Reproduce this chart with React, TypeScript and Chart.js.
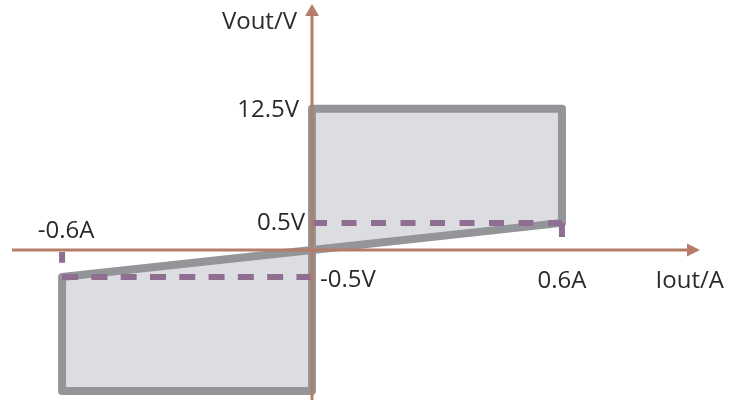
import React, { useEffect, useRef } from 'react';
import { Chart, registerables, LinearScale } from 'chart.js';

// ---------- data ----------
const xTickValues = [-0.6, 0.6];
const xTickLabels = ['-0.6A', '0.6A'];
const yTickValues = [12.5, 0.5, -0.5];
const yTickLabels = ['12.5V', '0.5V', '-0.5V'];
const xTitle = 'Iout/A';
const yTitle = 'Vout/V';

// positive-quadrant region (Iout ≥ 0)
const upperX = [0, 0, 0.6, 0.6, 0];
const upperY = [0, 12.5, 12.5, 0.5, 0];
// negative-quadrant region (Iout ≤ 0)
const lowerX = [0, 0, -0.6, -0.6, 0];
const lowerY = [0, -12.5, -12.5, -0.5, 0];

// dashed guide lines
const upperGuideX = [0, 0.6];
const upperGuideY = [0.5, 0.5];
const lowerGuideX = [-0.6, 0];
const lowerGuideY = [-0.5, -0.5];
// short tick marks at ±0.6A
const upperMarkX = [0.6, 0.6];
const upperMarkY = [0.5, 0.24];
const lowerMarkX = [-0.6, -0.6];
const lowerMarkY = [-0.04, -0.24];

// ---------- styles ----------
const AXIS_COLOR = '#b57d69';
const SHAPE_STROKE = '#939598';
const SHAPE_FILL = '#dcdde0';
const GUIDE_COLOR = '#8f6e92';
const TEXT_COLOR = '#2b2b2b';
const FONT = '24px "Open Sans", sans-serif';

// schematic (piecewise-linear) vertical scale: small band near zero is expanded
const BREAK = 0.5;
const INNER = 54;
const OUTER = 9.5;
const tf = (v: number) => {
  const a = Math.abs(v);
  const s = Math.sign(v);
  return s * (a <= BREAK ? a * INNER : BREAK * INNER + (a - BREAK) * OUTER);
};
const tfInv = (t: number) => {
  const a = Math.abs(t);
  const s = Math.sign(t);
  return s * (a <= BREAK * INNER ? a / INNER : BREAK + (a - BREAK * INNER) / OUTER);
};

class PiecewiseScale extends LinearScale {
  static id = 'piecewise';
  getPixelForValue(value: number) {
    const lo = tf(this.min);
    const hi = tf(this.max);
    return this.getPixelForDecimal((tf(value) - lo) / (hi - lo));
  }
  getValueForPixel(pixel: number) {
    const lo = tf(this.min);
    const hi = tf(this.max);
    const d = this.getDecimalForPixel(pixel);
    return tfInv(lo + d * (hi - lo));
  }
}

Chart.register(...registerables, PiecewiseScale);

const pts = (xs: number[], ys: number[]) => xs.map((x, i) => ({ x, y: ys[i] }));

const decorPlugin = {
  id: 'decor',
  afterDatasetsDraw(chart: any) {
    const { ctx, chartArea, scales } = chart;
    const xs = scales.x;
    const ys = scales.y;
    const x0 = xs.getPixelForValue(0);
    const y0 = ys.getPixelForValue(0);
    ctx.save();
    ctx.strokeStyle = AXIS_COLOR;
    ctx.fillStyle = AXIS_COLOR;
    ctx.lineWidth = 3;
    // x axis
    const xStart = chartArea.left + 12;
    const xTip = chartArea.right - 29;
    ctx.beginPath();
    ctx.moveTo(xStart, y0);
    ctx.lineTo(xTip - 10, y0);
    ctx.stroke();
    ctx.beginPath();
    ctx.moveTo(xTip, y0);
    ctx.lineTo(xTip - 13, y0 - 6.5);
    ctx.lineTo(xTip - 13, y0 + 6.5);
    ctx.closePath();
    ctx.fill();
    // y axis
    const yTip = chartArea.top + 4;
    ctx.beginPath();
    ctx.moveTo(x0, chartArea.bottom);
    ctx.lineTo(x0, yTip + 10);
    ctx.stroke();
    ctx.beginPath();
    ctx.moveTo(x0, yTip);
    ctx.lineTo(x0 - 7, yTip + 12);
    ctx.lineTo(x0 + 7, yTip + 12);
    ctx.closePath();
    ctx.fill();

    // labels
    ctx.font = FONT;
    ctx.fillStyle = TEXT_COLOR;
    ctx.textBaseline = 'alphabetic';
    // y titles/ticks
    ctx.textAlign = 'right';
    ctx.fillText(yTitle, x0 - 15, chartArea.top + 29);
    yTickValues.forEach((v, i) => {
      const py = ys.getPixelForValue(v);
      if (v > 1) {
        ctx.textAlign = 'right';
        ctx.fillText(yTickLabels[i], x0 - 13, py + 8);
      } else if (v > 0) {
        ctx.textAlign = 'right';
        ctx.fillText(yTickLabels[i], x0 - 7, py + 7);
      } else {
        ctx.textAlign = 'left';
        ctx.fillText(yTickLabels[i], x0 + 8, py + 10);
      }
    });
    // x ticks
    ctx.textAlign = 'center';
    xTickValues.forEach((v, i) => {
      const px = xs.getPixelForValue(v);
      if (v < 0) ctx.fillText(xTickLabels[i], px + 4, y0 - 12);
      else ctx.fillText(xTickLabels[i], px, y0 + 38);
    });
    ctx.textAlign = 'right';
    ctx.fillText(xTitle, chartArea.right - 5, y0 + 38);
    ctx.restore();
  },
};

export default function App() {
  const ref = useRef<HTMLCanvasElement>(null);
  useEffect(() => {
    const shape = (xs: number[], ys: number[]) => ({
      data: pts(xs, ys),
      showLine: true,
      fill: 'shape',
      backgroundColor: SHAPE_FILL,
      borderColor: SHAPE_STROKE,
      borderWidth: 8,
      borderJoinStyle: 'round',
      pointRadius: 0,
      order: 3,
    });
    const guide = (xs: number[], ys: number[], dash: number[]) => ({
      data: pts(xs, ys),
      showLine: true,
      fill: false,
      borderColor: GUIDE_COLOR,
      borderWidth: 6,
      borderDash: dash,
      borderCapStyle: 'butt',
      pointRadius: 0,
      order: 1,
    });
    const chart = new Chart(ref.current!, {
      type: 'scatter',
      data: {
        datasets: [
          shape(upperX, upperY),
          shape(lowerX, lowerY),
          guide(upperGuideX, upperGuideY, [15, 14.5]),
          guide(lowerGuideX, lowerGuideY, [16, 13.3]),
          guide(upperMarkX, upperMarkY, []),
          guide(lowerMarkX, lowerMarkY, []),
        ] as any,
      },
      options: {
        animation: false,
        responsive: true,
        maintainAspectRatio: false,
        layout: { padding: 0 },
        plugins: { legend: { display: false }, tooltip: { enabled: false } },
        events: [],
        scales: {
          x: { type: 'linear', min: -0.749, max: 1.001, display: false },
          y: { type: 'piecewise' as any, min: -13.45, max: 23.95, display: false },
        },
      },
      plugins: [decorPlugin],
    });
    return () => chart.destroy();
  }, []);
  return (
    <div style={{ position: 'absolute', left: 0, top: 0, width: 729, height: 400 }}>
      <canvas ref={ref} />
    </div>
  );
}
